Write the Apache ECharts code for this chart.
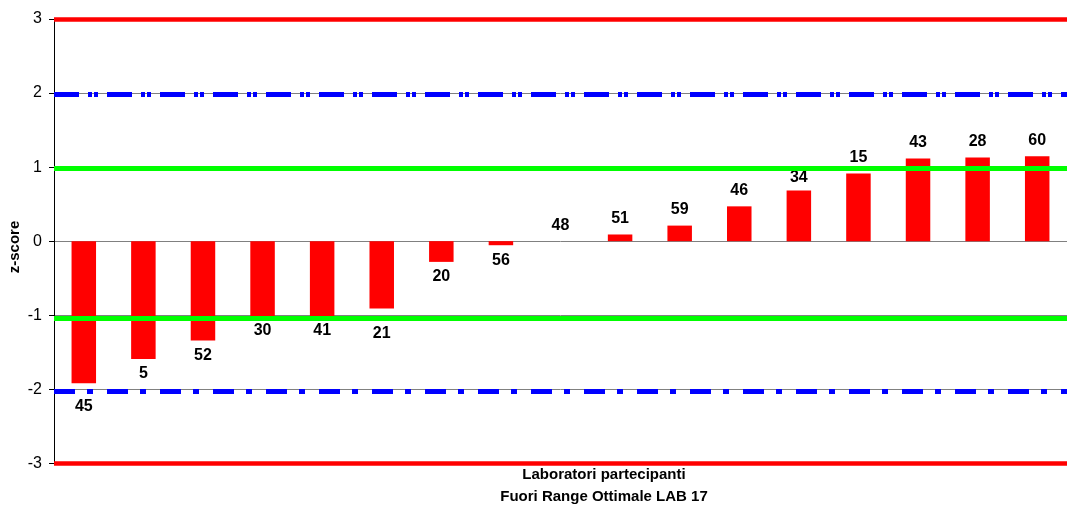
<!DOCTYPE html>
<html>
<head>
<meta charset="utf-8">
<script src="https://cdn.jsdelivr.net/npm/echarts@6/dist/echarts.min.js"></script>
<style>
html,body{margin:0;padding:0;background:#fff;}
#chart{width:1067px;height:506px;}
</style>
</head>
<body>
<div id="chart"></div>
<script>
// Data
const labs = ['45','5','52','30','41','21','20','56','48','51','59','46','34','15','43','28','60'];
const zScores = [-1.92,-1.59,-1.34,-1.01,-1.01,-0.91,-0.28,-0.055,0,0.09,0.21,0.47,0.685,0.915,1.115,1.13,1.145];
const yTicks = [-3,-2,-1,0,1,2,3];
const redLimits = [3, -3];
const blueLimits = [1.99, -2.03];
const greenLimits = [0.99, -1.045];
const yTitle = 'z-score';
const xTitle1 = 'Laboratori partecipanti';
const xTitle2 = 'Fuori Range Ottimale LAB 17';

const FONT = 'Arial, "Liberation Sans", sans-serif';

const chart = echarts.init(document.getElementById('chart'), null, {renderer: 'canvas'});

const barData = zScores.map(v => ({
  value: v,
  label: { position: v < 0 ? 'bottom' : 'top', distance: v < 0 ? 7 : 8 }
}));

const allLimits = redLimits.concat(blueLimits, greenLimits);

const markData = [];
redLimits.forEach(v => markData.push(
  { yAxis: v, lineStyle: { color: '#FF0000', type: 'solid', width: 4.5 } }
));
blueLimits.forEach((v, i) => markData.push(
  { yAxis: v, lineStyle: { color: '#0000FF', type: i === 0 ? [25, 9, 4, 2, 4, 9] : [21, 12, 6, 14], width: 5 } }
));
greenLimits.forEach(v => markData.push(
  { yAxis: v, lineStyle: { color: '#00FF00', type: 'solid', width: 5 } }
));

// Move a value label off a limit line when they would overlap
function avoidLines(p) {
  const r = p.labelRect;
  const v = zScores[p.dataIndex];
  const top = r.y + 2, bot = r.y + r.height - 2;
  for (const L of allLimits) {
    const py = chart.convertToPixel({ yAxisIndex: 0 }, L);
    const a = py - 2.5, b = py + 2.5;
    if (bot > a && top < b) {
      return v < 0 ? { dy: b + 7 - top } : { dy: b + 1 - top };
    }
  }
  return {};
}

const option = {
  animation: false,
  backgroundColor: '#ffffff',
  grid: { left: 54, right: -6, top: 19, bottom: 42.7, containLabel: false },
  xAxis: {
    type: 'category',
    data: labs,
    axisLine: { show: false },
    axisTick: { show: false },
    axisLabel: { show: false },
    splitLine: { show: false }
  },
  yAxis: {
    type: 'value',
    min: yTicks[0],
    max: yTicks[yTicks.length - 1],
    interval: 1,
    axisLine: { show: true, lineStyle: { color: '#000', width: 1 } },
    axisTick: { show: true, length: 5, lineStyle: { color: '#000', width: 1 } },
    axisLabel: { color: '#000', fontFamily: FONT, fontSize: 16, margin: 12 },
    splitLine: { show: true, lineStyle: { color: '#808080', width: 1 } }
  },
  series: [{
    type: 'bar',
    data: barData,
    barWidth: 24.5,
    itemStyle: { color: '#FF0000' },
    label: {
      show: true,
      formatter: p => labs[p.dataIndex],
      color: '#000',
      fontFamily: FONT,
      fontSize: 16,
      fontWeight: 'bold'
    },
    labelLayout: avoidLines,
    markLine: {
      silent: true,
      symbol: ['none', 'none'],
      label: { show: false },
      emphasis: { disabled: true },
      animation: false,
      data: markData
    }
  }],
  graphic: [
    {
      type: 'text', x: 15, y: 247, rotation: Math.PI / 2,
      style: { text: yTitle, font: 'bold 15px ' + FONT, fill: '#000', align: 'center', verticalAlign: 'middle' }
    },
    {
      type: 'text', x: 604, y: 474.5,
      style: { text: xTitle1, font: 'bold 15px ' + FONT, fill: '#000', align: 'center', verticalAlign: 'middle' }
    },
    {
      type: 'text', x: 604, y: 496.5,
      style: { text: xTitle2, font: 'bold 15px ' + FONT, fill: '#000', align: 'center', verticalAlign: 'middle' }
    }
  ]
};
chart.setOption(option);
</script>
</body>
</html>
